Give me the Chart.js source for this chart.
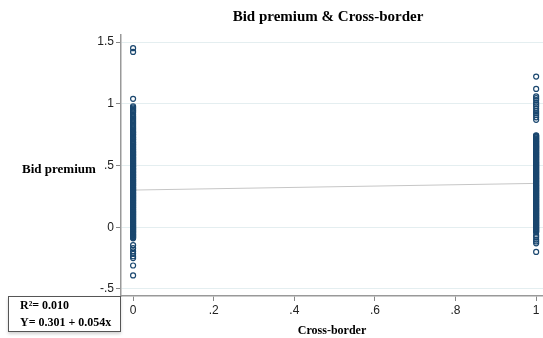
<!DOCTYPE html>
<html>
<head>
<meta charset="utf-8">
<script src="https://cdn.jsdelivr.net/npm/chart.js@4/dist/chart.umd.min.js"></script>
<style>
  html, body { margin: 0; padding: 0; background: #ffffff; }
  canvas { display: block; }
</style>
</head>
<body>
<canvas id="chart" width="543" height="338"></canvas>
<script>
// Bid premium observations for domestic deals (Cross-border = 0)
const domesticPremium = [
  1.45, 1.42, 1.04, 0.98, 0.97, 0.96, 0.95, 0.94, 0.93, 0.915, 0.90, 0.89,
  0.88, 0.87, 0.86, 0.85, 0.84, 0.83, 0.82, 0.81, 0.80, 0.79, 0.78, 0.77,
  0.765, 0.755, 0.75, 0.74, 0.73, 0.725, 0.715, 0.71, 0.70, 0.69, 0.685,
  0.675, 0.67, 0.66, 0.655, 0.645, 0.64, 0.63, 0.625, 0.615, 0.61,
  0.603, 0.598, 0.590, 0.586, 0.578, 0.571, 0.567, 0.560, 0.554, 0.548, 0.543,
  0.536, 0.530, 0.524, 0.519, 0.512, 0.507, 0.500, 0.494, 0.490, 0.482, 0.476,
  0.471, 0.465, 0.458, 0.453, 0.446, 0.441, 0.435, 0.428, 0.423, 0.417, 0.410,
  0.405, 0.400, 0.393, 0.387, 0.382, 0.375, 0.370, 0.364, 0.357, 0.352, 0.346,
  0.341, 0.335, 0.328, 0.324, 0.317, 0.311, 0.306, 0.300, 0.295, 0.288, 0.283,
  0.276, 0.272, 0.265, 0.260, 0.253, 0.248, 0.243, 0.236, 0.231, 0.225, 0.219,
  0.214, 0.207, 0.203, 0.196, 0.190, 0.186, 0.179, 0.173, 0.168, 0.161, 0.157,
  0.150, 0.145, 0.139, 0.132, 0.128, 0.121, 0.116, 0.110, 0.104, 0.099, 0.092,
  0.087, 0.082, 0.075, 0.070, 0.064, 0.058, 0.053, 0.046, 0.042, 0.035, 0.030,
  0.024, 0.017, 0.013, 0.006, 0.001, -0.006, -0.010, -0.017, -0.022, -0.028,
  -0.034, -0.039, -0.045, -0.051, -0.057, -0.062, -0.068, -0.074, -0.079,
  -0.085, -0.090,
  -0.145, -0.17, -0.195, -0.215, -0.235, -0.25, -0.31, -0.39
];

// Bid premium observations for cross-border deals (Cross-border = 1)
const crossBorderPremium = [
  1.22, 1.12, 1.06, 1.045, 1.03, 1.01, 0.995, 0.98, 0.96, 0.94, 0.925, 0.91,
  0.89, 0.87,
  0.745, 0.740, 0.733, 0.727, 0.719, 0.714, 0.708, 0.700, 0.695, 0.690, 0.682,
  0.677, 0.670, 0.663, 0.658, 0.651, 0.646, 0.639, 0.634, 0.626, 0.621, 0.614,
  0.607, 0.602, 0.596, 0.589, 0.584, 0.576, 0.571, 0.565, 0.558, 0.552, 0.546,
  0.540, 0.532, 0.527, 0.520, 0.515, 0.508, 0.502, 0.495, 0.490, 0.483, 0.477,
  0.470, 0.465, 0.457, 0.452, 0.446, 0.439, 0.434, 0.427, 0.421, 0.414, 0.409,
  0.401, 0.396, 0.390, 0.383, 0.377, 0.370, 0.365, 0.358, 0.352, 0.345, 0.340,
  0.333, 0.327, 0.320, 0.315, 0.308, 0.302, 0.295, 0.290, 0.283, 0.276, 0.271,
  0.264, 0.258, 0.252, 0.245, 0.240, 0.233, 0.227, 0.220, 0.215, 0.208, 0.202,
  0.196, 0.189, 0.184, 0.176, 0.171, 0.165, 0.158, 0.152, 0.146, 0.140, 0.133,
  0.128, 0.121, 0.114, 0.109, 0.102, 0.096, 0.090, 0.083, 0.077, 0.071, 0.065,
  0.058, 0.052, 0.046, 0.039, 0.034, 0.027, 0.021, 0.014, 0.009, 0.002, -0.004,
  -0.011, -0.016, -0.023, -0.029, -0.035, -0.041,
  -0.065, -0.08, -0.10, -0.115, -0.13, -0.20
];

// Fitted regression: Y = intercept + slope * x
const fitIntercept = 0.301;
const fitSlope = 0.054;
const fitRSquared = 0.010;

const chartTitle = 'Bid premium & Cross-border';
const xAxisTitle = 'Cross-border';
const yAxisTitle = 'Bid premium';

const xTickValues = [0, 0.2, 0.4, 0.6, 0.8, 1];
const xTickLabels = ['0', '.2', '.4', '.6', '.8', '1'];
const yTickValues = [-0.5, 0, 0.5, 1, 1.5];
const yTickLabels = ['-.5', '0', '.5', '1', '1.5'];

const fmt3 = v => v.toFixed(3);

const scatterPoints = [
  ...domesticPremium.map(v => ({ x: 0, y: v })),
  ...crossBorderPremium.map(v => ({ x: 1, y: v }))
];
const fitLine = [0, 1].map(x => ({ x, y: fitIntercept + fitSlope * x }));

const serif = "'Liberation Serif', 'DejaVu Serif', serif";
const sans = "'Liberation Sans', Arial, sans-serif";

// Title, horizontal y-axis title and the fit-statistics box
const annotations = {
  id: 'annotations',
  afterDraw(chart) {
    const ctx = chart.ctx;
    ctx.save();
    ctx.fillStyle = '#000';
    ctx.textBaseline = 'middle';

    ctx.font = 'bold 15px ' + serif;
    ctx.textAlign = 'center';
    ctx.fillText(chartTitle, 328, 17);

    ctx.font = 'bold 13px ' + serif;
    ctx.textAlign = 'left';
    ctx.fillText(yAxisTitle, 22, 170);

    // statistics box
    ctx.shadowColor = 'rgba(0,0,0,0.18)';
    ctx.shadowBlur = 3;
    ctx.shadowOffsetY = 2;
    ctx.fillStyle = '#fff';
    ctx.fillRect(8, 296, 113, 36);
    ctx.shadowColor = 'transparent';
    ctx.strokeStyle = '#555';
    ctx.lineWidth = 1;
    ctx.strokeRect(8.5, 296.5, 112, 35);

    ctx.fillStyle = '#000';
    ctx.font = 'bold 12px ' + serif;
    ctx.fillText('R\u00B2= ' + fmt3(fitRSquared), 20, 306);
    ctx.fillText('Y= ' + fmt3(fitIntercept) + ' + ' + fmt3(fitSlope) + 'x', 20, 323);
    ctx.restore();
  }
};

new Chart(document.getElementById('chart'), {
  type: 'scatter',
  data: {
    datasets: [
      {
        data: fitLine,
        type: 'line',
        borderColor: '#c6c6c6',
        borderWidth: 1,
        pointRadius: 0,
        fill: false,
        order: 2
      },
      {
        data: scatterPoints,
        pointStyle: 'circle',
        pointRadius: 2.5,
        borderWidth: 1.2,
        pointBorderColor: '#1a476f',
        pointBackgroundColor: 'rgba(255,255,255,0)',
        order: 1
      }
    ]
  },
  options: {
    responsive: false,
    animation: false,
    devicePixelRatio: 1,
    layout: { autoPadding: false, padding: { top: 35, right: 0, left: 0, bottom: 0 } },
    plugins: {
      legend: { display: false },
      tooltip: { enabled: false },
      title: { display: false }
    },
    scales: {
      x: {
        type: 'linear',
        min: -0.03,
        max: 1.017,
        afterFit(scale) {
          scale.height = 42;
          scale.paddingLeft = 0;
          scale.paddingRight = 0;
        },
        afterBuildTicks(scale) { scale.ticks = xTickValues.map(v => ({ value: v })); },
        ticks: {
          autoSkip: false,
          maxRotation: 0,
          padding: 2,
          color: '#222',
          font: { family: sans, size: 12 },
          callback: (v) => xTickLabels[xTickValues.indexOf(v)]
        },
        grid: {
          drawOnChartArea: false,
          drawTicks: true,
          tickLength: 5,
          tickColor: '#888',
          tickWidth: 1
        },
        border: { display: true, color: '#999', width: 1.5 },
        title: {
          display: true,
          text: xAxisTitle,
          color: '#000',
          font: { family: serif, size: 12, weight: 'bold' },
          padding: { top: 2, bottom: 0 }
        }
      },
      y: {
        type: 'linear',
        min: -0.557,
        max: 1.557,
        afterFit(scale) {
          scale.width = 121;
          scale.paddingTop = 0;
          scale.paddingBottom = 0;
        },
        afterBuildTicks(scale) { scale.ticks = yTickValues.map(v => ({ value: v })); },
        ticks: {
          autoSkip: false,
          padding: 2,
          color: '#222',
          font: { family: sans, size: 12 },
          callback: (v) => yTickLabels[yTickValues.indexOf(v)]
        },
        grid: {
          color: '#e4eef0',
          lineWidth: 1,
          drawTicks: true,
          tickLength: 5,
          tickColor: '#888',
          tickWidth: 1
        },
        border: { display: true, color: '#999', width: 1.5 }
      }
    }
  },
  plugins: [annotations]
});
</script>
</body>
</html>
